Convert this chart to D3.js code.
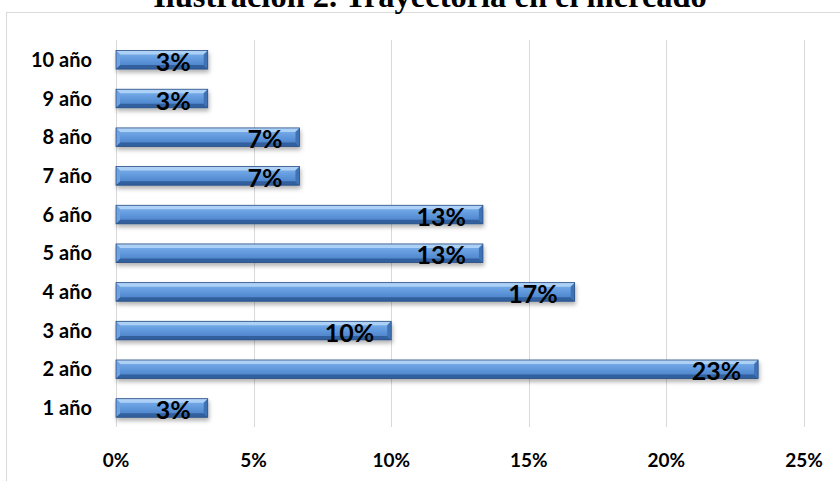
<!DOCTYPE html>
<html><head><meta charset="utf-8">
<script src="https://cdn.jsdelivr.net/npm/d3@7"></script>
<style>body{margin:0;background:#fff}svg{display:block}</style>
</head><body>
<svg id="c" width="840" height="481"></svg>
<script>
const title = "Ilustración 2.  Trayectoria en el mercado";
const categories = ["1 año","2 año","3 año","4 año","5 año","6 año","7 año","8 año","9 año","10 año"];
const values = [1/30, 7/30, 3/30, 5/30, 4/30, 4/30, 2/30, 2/30, 1/30, 1/30];
const labels = ["3%","23%","10%","17%","13%","13%","7%","7%","3%","3%"];
const ticks = [0, 0.05, 0.10, 0.15, 0.20, 0.25];

const svg = d3.select("#c");
const defs = svg.append("defs");
const g1 = defs.append("linearGradient").attr("id","face").attr("x1",0).attr("y1",0).attr("x2",0).attr("y2",1);
g1.append("stop").attr("offset","0%").attr("stop-color","#82b4ee");
g1.append("stop").attr("offset","50%").attr("stop-color","#6098dc");
g1.append("stop").attr("offset","100%").attr("stop-color","#467ac2");
const f = defs.append("filter").attr("id","sh").attr("x","-10%").attr("y","-50%").attr("width","130%").attr("height","250%");
f.append("feDropShadow").attr("dx",1).attr("dy",3).attr("stdDeviation",2).attr("flood-color","#000").attr("flood-opacity",0.3);

// chart box
svg.append("rect").attr("x",6.5).attr("y",12.5).attr("width",900).attr("height",600)
  .attr("fill","#fff").attr("stroke","#d9d9d9").attr("stroke-width",1);

// title
const t = svg.append("text").attr("x",430).attr("y",7).attr("text-anchor","middle")
  .attr("font-family","Liberation Serif").attr("font-weight","bold").attr("font-size",26).text(title);
const tw = t.node().getComputedTextLength();
t.attr("font-size", 26*554/tw);

const x = d3.scaleLinear().domain([0,0.25]).range([116,804]);
const y = d3.scaleBand().domain(categories.slice().reverse()).range([40.5,427.3]).paddingInner(0.52).paddingOuter(0.26);

// gridlines
svg.append("g").selectAll("line").data(ticks).join("line")
  .attr("x1",d=>Math.round(x(d))+0.5).attr("x2",d=>Math.round(x(d))+0.5)
  .attr("y1",40).attr("y2",427).attr("stroke","#d9d9d9").attr("stroke-width",1);

// tick labels
svg.append("g").selectAll("text").data(ticks).join("text")
  .attr("x",d=>x(d)).attr("y",467).attr("text-anchor","middle")
  .attr("font-family","Lato").attr("font-weight","bold").attr("font-size",19).attr("fill","#000")
  .text(d=>d3.format(".0%")(d));

// category labels
svg.append("g").selectAll("text").data(categories).join("text")
  .attr("x",92).attr("y",d=>y(d)+y.bandwidth()/2+7).attr("text-anchor","end")
  .attr("font-family","Lato").attr("font-weight","bold").attr("font-size",20).attr("fill","#000")
  .text(d=>d);

// bars
const b = 4;
const bars = svg.append("g").selectAll("g").data(categories.map((c,i)=>({c,v:values[i],l:labels[i]}))).join("g")
  .attr("filter","url(#sh)");
bars.each(function(d){
  const g = d3.select(this);
  const x0 = x(0), x1 = x(d.v), y0 = y(d.c), y1 = y(d.c)+y.bandwidth();
  const P = pts => pts.map(p=>p.join(",")).join(" ");
  g.append("rect").attr("x",x0).attr("y",y0).attr("width",x1-x0).attr("height",y1-y0).attr("fill","url(#face)");
  g.append("polygon").attr("points",P([[x0,y0],[x1,y0],[x1-b,y0+b],[x0+b,y0+b]])).attr("fill","#acd0f6");
  g.append("polygon").attr("points",P([[x0,y1],[x1,y1],[x1-b,y1-b],[x0+b,y1-b]])).attr("fill","#30609f");
  g.append("polygon").attr("points",P([[x1,y0],[x1,y1],[x1-b,y1-b],[x1-b,y0+b]])).attr("fill","#4073b6");
  g.append("polygon").attr("points",P([[x0,y0],[x0,y1],[x0+b,y1-b],[x0+b,y0+b]])).attr("fill","#6ea2e2");
  g.append("rect").attr("x",x0).attr("y",y0).attr("width",x1-x0).attr("height",y1-y0)
    .attr("fill","none").attr("stroke","#2b4f82").attr("stroke-width",0.8);
});

// data labels
svg.append("g").selectAll("text").data(categories.map((c,i)=>({c,v:values[i],l:labels[i]}))).join("text")
  .attr("x",d=>x(d.v)-17).attr("y",d=>y(d.c)+y.bandwidth()/2+11).attr("text-anchor","end")
  .attr("font-family","Lato").attr("font-weight","bold").attr("font-size",25).attr("fill","#000")
  .text(d=>d.l);
</script>
</body></html>
